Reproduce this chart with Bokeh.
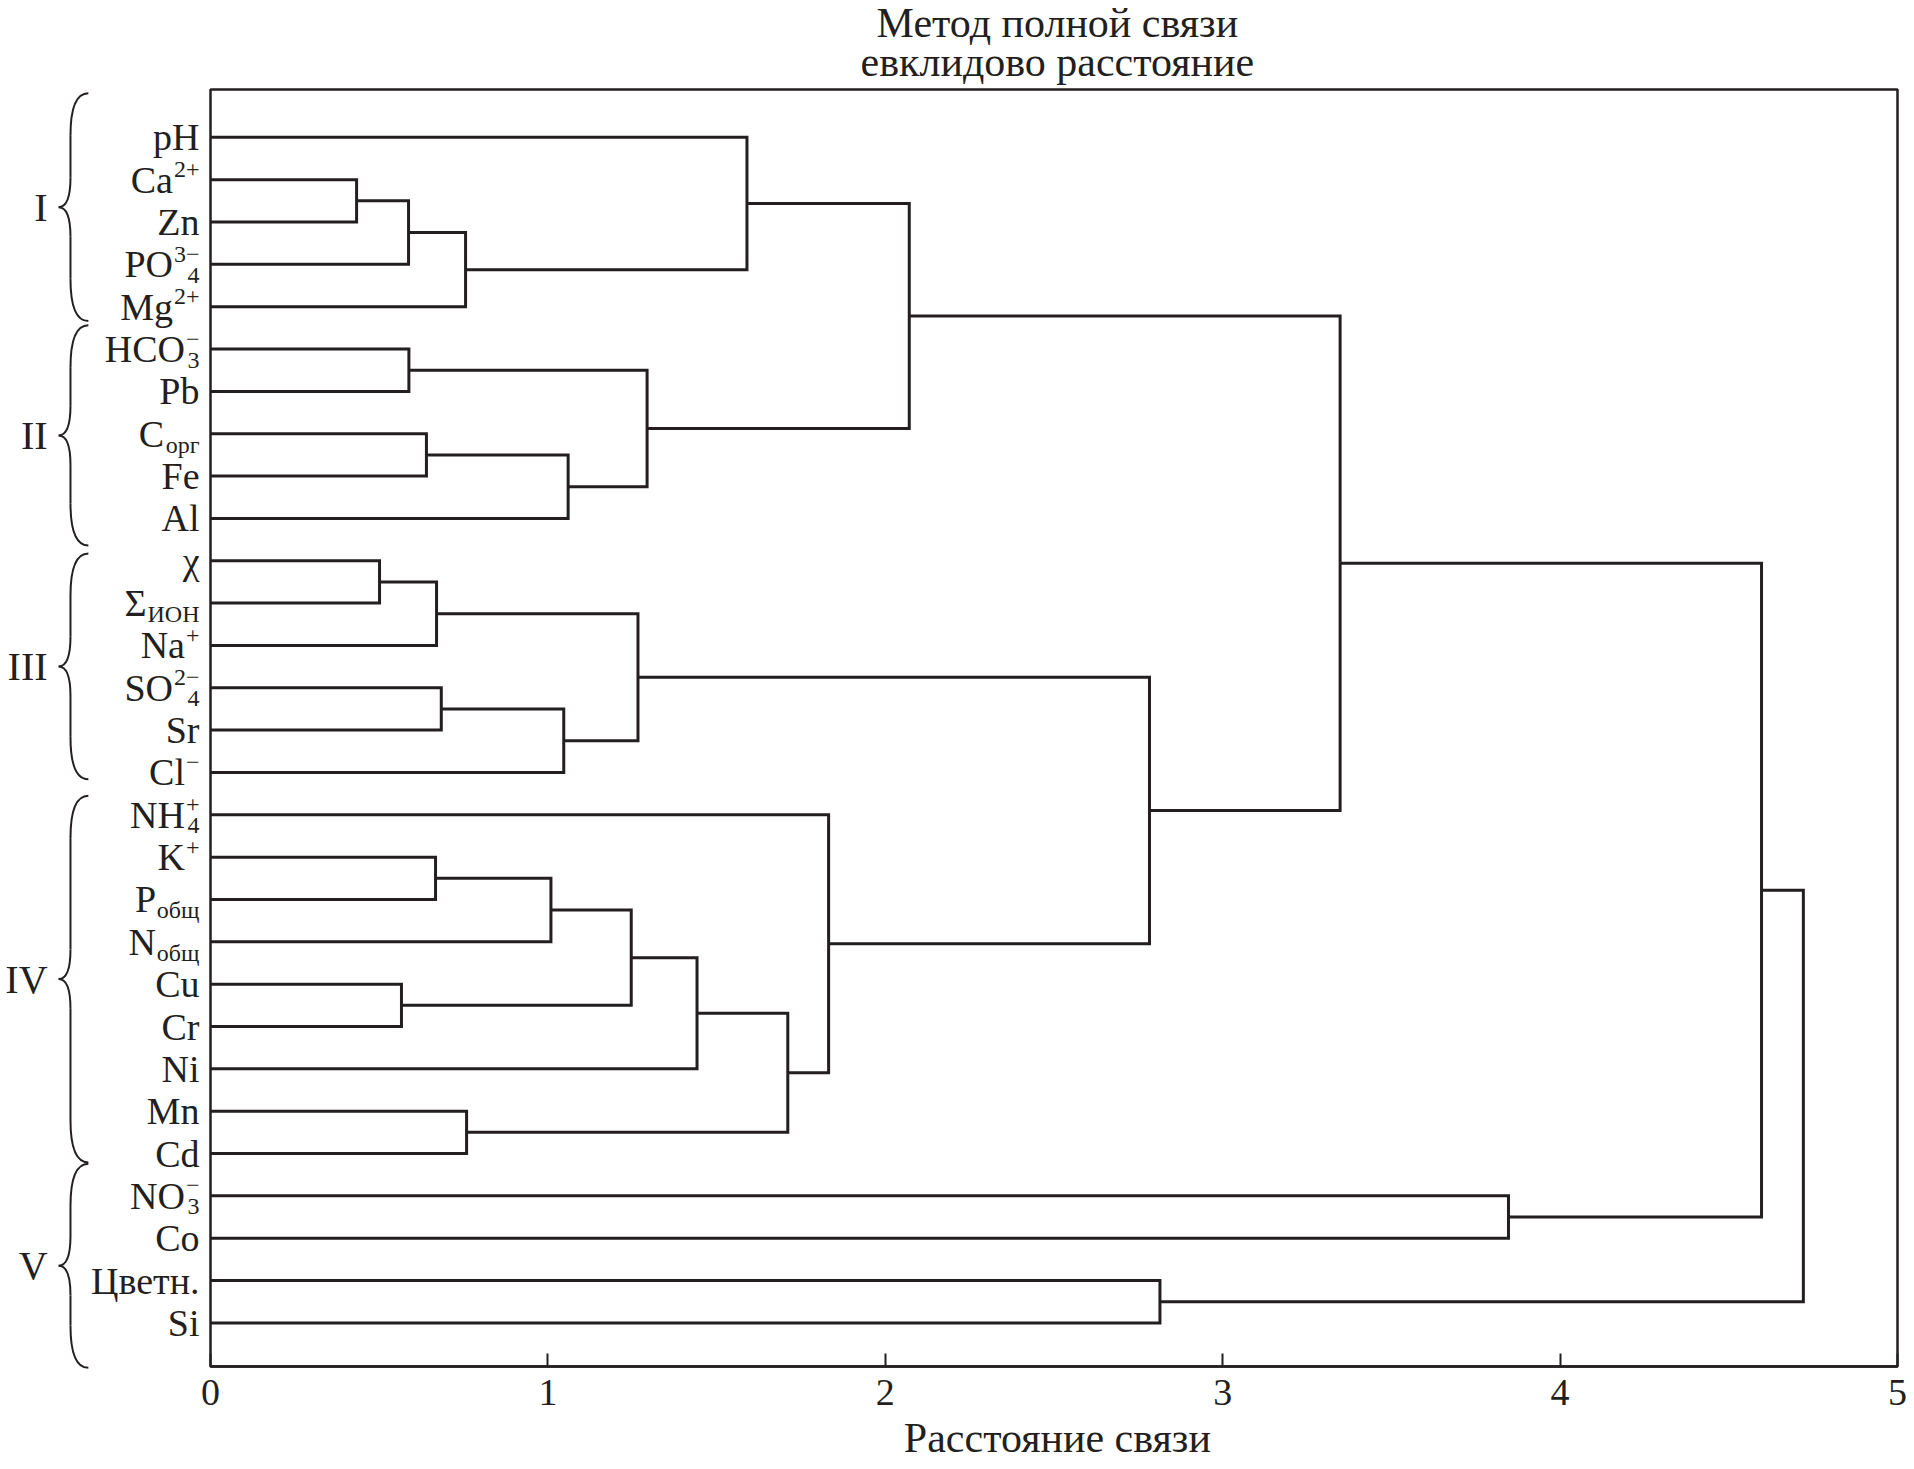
from bokeh.plotting import figure
from bokeh.models import ColumnDataSource, Range1d, FixedTicker
from bokeh.core.properties import value
from bokeh.embed import file_html
from bokeh.resources import INLINE

# ---------------- data ----------------
leaf_main = ["pH", "Ca", "Zn", "PO", "Mg", "HCO", "Pb", "C", "Fe", "Al",
             "χ", "Σ", "Na", "SO", "Sr", "Cl", "NH", "K", "P", "N",
             "Cu", "Cr", "Ni", "Mn", "Cd", "NO", "Co", "Цветн.", "Si"]
leaf_sup = ["", "2+", "", "3−", "2+", "−", "", "", "", "",
            "", "", "+", "2−", "", "−", "+", "+", "", "",
            "", "", "", "", "", "−", "", "", ""]
leaf_sub = ["", "", "", "4", "", "3", "", "орг", "", "",
            "", "ИОН", "", "4", "", "", "4", "", "общ", "общ",
            "", "", "", "", "", "3", "", "", ""]

# linkage: leaves are 0..28, merged clusters get ids 29, 30, ...
merge_left = [1, 29, 30, 0, 5, 7, 34, 33, 32,
              10, 38, 13, 40, 39,
              17, 43, 20, 44, 46, 23, 47, 16, 42, 37,
              25, 52, 27, 54]
merge_right = [2, 3, 4, 31, 6, 8, 9, 35, 36,
               11, 12, 14, 15, 41,
               18, 19, 21, 45, 22, 24, 48, 49, 50, 51,
               26, 53, 28, 55]
merge_height = [0.433, 0.587, 0.756, 1.590, 0.588, 0.640, 1.060, 1.294, 2.071,
                0.501, 0.670, 0.684, 1.047, 1.267,
                0.667, 1.009, 0.566, 1.247, 1.442, 0.759, 1.711, 1.832, 2.783, 3.348,
                3.847, 4.597, 2.814, 4.721]

group_names = ["I", "II", "III", "IV", "V"]

tick_values = [0, 1, 2, 3, 4, 5]
title_lines = ["Метод полной связи", "евклидово расстояние"]
x_label = "Расстояние связи"

# ---------------- layout / style ----------------
INK = "#231f20"
FONT = "Liberation Serif"
MAIN_PX = 38
SCRIPT_PX = 24
GAP = 11
brace_top = [-0.04, 5.44, 10.83, 16.55, 25.24]
brace_bottom = [5.34, 10.64, 16.16, 25.21, 30.06]
BR_END, BR_SPINE, BR_TIP = -0.362, -0.415, -0.450
NUM_X = -0.483

W, H = 1910, 1466
p = figure(width=W, height=H, x_range=Range1d(0, 5), y_range=Range1d(30.03, -0.13),
           output_backend="svg", toolbar_location=None, y_axis_location=None,
           min_border_left=210, min_border_right=13, min_border_top=89, min_border_bottom=100)
p.title.text = ""
p.grid.visible = False
p.background_fill_color = "white"
p.border_fill_color = "white"
p.outline_line_color = INK
p.outline_line_width = 2.5

ax = p.xaxis[0]
ax.ticker = FixedTicker(ticks=tick_values)
ax.minor_tick_line_color = None
ax.major_tick_in = 13
ax.major_tick_out = 0
ax.major_tick_line_width = 2
ax.major_tick_line_color = INK
ax.axis_line_width = 2.5
ax.axis_line_color = INK
ax.major_label_text_font = FONT
ax.major_label_text_font_size = "38px"
ax.major_label_text_color = INK
ax.major_label_standoff = 13

# ---------------- dendrogram ----------------
n = len(leaf_main)
ypos = [i + 1 for i in range(n)]
hgt = [0.0] * n
xs, ys = [], []
for a, b, h in zip(merge_left, merge_right, merge_height):
    ya, yb = ypos[a], ypos[b]
    xs.append([hgt[a], h, h, hgt[b]])
    ys.append([ya, ya, yb, yb])
    ypos.append((ya + yb) / 2)
    hgt.append(h)
p.multi_line(xs, ys, line_color=INK, line_width=3, line_join="miter")

# ---------------- leaf labels ----------------
CW = {"2": 0.5, "3": 0.5, "4": 0.5, "+": 0.564, "−": 0.564, "о": 0.5, "р": 0.5,
      "г": 0.434, "б": 0.5, "щ": 0.77, "И": 0.722, "О": 0.722, "Н": 0.722}

def tw(s, px):
    return sum(CW.get(c, 0.55) for c in s) * px

main_off = []
for sp, sb in zip(leaf_sup, leaf_sub):
    w = max(tw(sp, SCRIPT_PX), tw(sb, SCRIPT_PX))
    main_off.append(-(GAP + w + (1 if w > 0 else 0)))
leaf_y = ypos[:n]
src = ColumnDataSource(dict(x=[0] * n, y=leaf_y, main=leaf_main, sup=leaf_sup, sub=leaf_sub,
                            moff=main_off))
p.text("x", "y", text="main", source=src, x_offset="moff", text_align="right",
       text_baseline="middle", text_font=value(FONT), text_font_size=f"{MAIN_PX}px",
       text_color=INK, level="overlay")
p.text("x", "y", text="sup", source=src, x_offset=-GAP, y_offset=-10, text_align="right",
       text_baseline="middle", text_font=value(FONT), text_font_size=f"{SCRIPT_PX}px",
       text_color=INK, level="overlay")
p.text("x", "y", text="sub", source=src, x_offset=-GAP, y_offset=11, text_align="right",
       text_baseline="middle", text_font=value(FONT), text_font_size=f"{SCRIPT_PX}px",
       text_color=INK, level="overlay")

# ---------------- braces + group numerals ----------------
qx0, qy0, qx1, qy1, qcx, qcy = [], [], [], [], [], []
sx0, sy0, sx1, sy1 = [], [], [], []
mids = []
R1, R2 = 1.0, 0.7
for top, bot in zip(brace_top, brace_bottom):
    mid = (top + bot) / 2
    mids.append(mid)
    qx0.append(BR_END); qy0.append(top); qcx.append(BR_SPINE); qcy.append(top)
    qx1.append(BR_SPINE); qy1.append(top + R1)
    qx0.append(BR_SPINE); qy0.append(mid - R2); qcx.append(BR_SPINE); qcy.append(mid)
    qx1.append(BR_TIP); qy1.append(mid)
    qx0.append(BR_TIP); qy0.append(mid); qcx.append(BR_SPINE); qcy.append(mid)
    qx1.append(BR_SPINE); qy1.append(mid + R2)
    qx0.append(BR_SPINE); qy0.append(bot - R1); qcx.append(BR_SPINE); qcy.append(bot)
    qx1.append(BR_END); qy1.append(bot)
    sx0 += [BR_SPINE, BR_SPINE]; sx1 += [BR_SPINE, BR_SPINE]
    sy0 += [top + R1, mid + R2]; sy1 += [mid - R2, bot - R1]
p.quadratic(x0=qx0, y0=qy0, x1=qx1, y1=qy1, cx=qcx, cy=qcy, line_color=INK,
            line_width=2, level="overlay")
p.segment(x0=sx0, y0=sy0, x1=sx1, y1=sy1, line_color=INK, line_width=2, level="overlay")
p.text(x=[NUM_X] * len(group_names), y=mids, text=group_names, text_align="right",
       text_baseline="middle", text_font=value(FONT), text_font_size="40px",
       text_color=INK, level="overlay")

# ---------------- titles ----------------
p.text(x=[2.51, 2.51], y=[-1.70, -0.78], text=title_lines, text_align="center",
       text_baseline="middle", text_font=value(FONT), text_font_size="42px",
       text_color=INK, level="overlay")
p.text(x=[2.51], y=[31.72], text=[x_label], text_align="center",
       text_baseline="middle", text_font=value(FONT), text_font_size="42px",
       text_color=INK, level="overlay")

open("out.html", "w").write(file_html(p, INLINE))
